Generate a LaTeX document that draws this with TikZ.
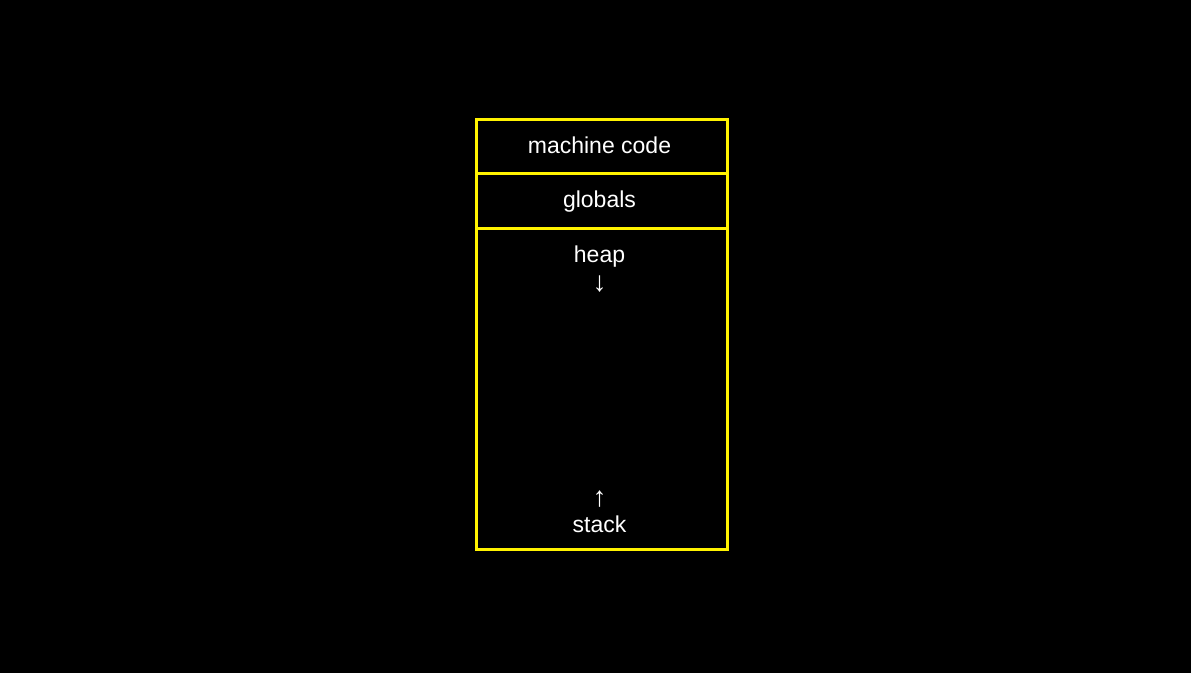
\documentclass[tikz,border=0pt]{standalone}
\usepackage{fontspec}
\setmainfont{Liberation Sans}
\begin{document}
\begin{tikzpicture}[x=1pt,y=-1pt,
  seg/.style={draw=yellow, line width=3pt},
  lbl/.style={text=white, font=\fontsize{23}{27}\selectfont, inner sep=0pt, anchor=base},
  arr/.style={text=white, font=\fontsize{28}{32}\selectfont, inner sep=0pt, anchor=center}]
\fill[black] (0,0) rectangle (1191,673);
\useasboundingbox (0,0) rectangle (1191,673);
\coordinate (tl) at (476,119);
\coordinate (br) at (727,549);
\coordinate (d1l) at (476,173);
\coordinate (d1r) at (727,173);
\coordinate (d2l) at (476,228);
\coordinate (d2r) at (727,228);
\draw[seg] (tl) rectangle (br);
\draw[seg] (d1l) -- (d1r);
\draw[seg] (d2l) -- (d2r);
\node[lbl] (mc) at (599.5,153) {machine code};
\node[lbl] (gl) at (599.5,207) {globals};
\node[lbl] (hp) at (599.5,262) {heap};
\node[arr] (da) at (599.5,284) {↓};
\node[arr] (ua) at (599.5,499) {↑};
\node[lbl] (st) at (599.5,532) {stack};
\end{tikzpicture}
\end{document}
